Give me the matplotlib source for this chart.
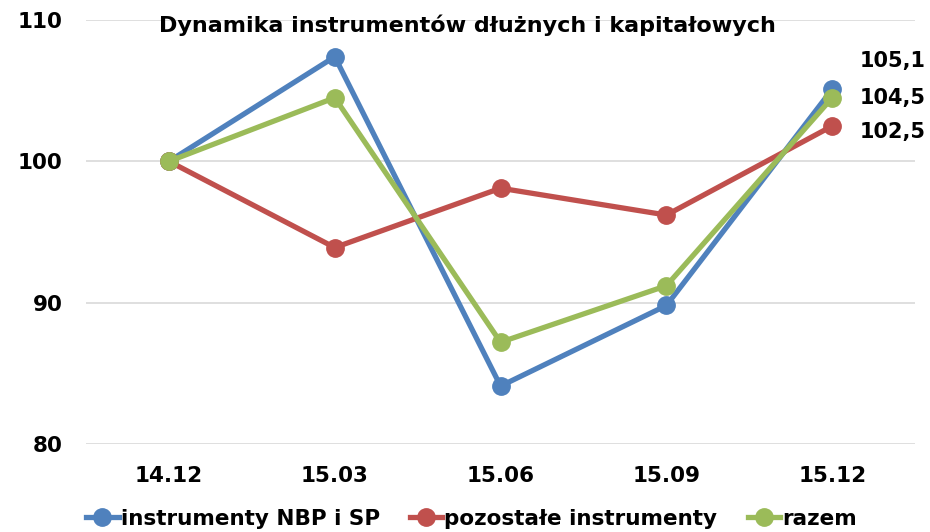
import matplotlib.pyplot as plt
from matplotlib import font_manager

# --- data ---
quarters = ['14.12', '15.03', '15.06', '15.09', '15.12']
nbp_sp = [100.0, 107.4, 84.1, 89.8, 105.1]
pozostale = [100.0, 93.9, 98.1, 96.2, 102.5]
razem = [100.0, 104.5, 87.2, 91.2, 104.5]

end_labels = ['105,1', '104,5', '102,5']

# narrow bold font for title/legend, if available
names = {f.name for f in font_manager.fontManager.ttflist}
narrow = 'Liberation Sans Narrow' if 'Liberation Sans Narrow' in names else 'DejaVu Sans'

blue = '#4F81BD'
red = '#C0504D'
green = '#9BBB59'

fig = plt.figure(figsize=(9.3, 5.32), dpi=100)
ax = fig.add_axes([0.0925, 0.1654, 0.8915, 0.797])

x = range(len(quarters))
ax.plot(x, nbp_sp, color=blue, lw=3.8, marker='o', ms=12.5, label='instrumenty NBP i SP')
ax.plot(x, pozostale, color=red, lw=3.8, marker='o', ms=12.5, label='pozostałe instrumenty')
ax.plot(x, razem, color=green, lw=3.8, marker='o', ms=12.5, label='razem')

ax.set_ylim(80, 110)
ax.set_yticks([80, 90, 100, 110])
ax.set_xlim(-0.5, len(quarters) - 0.5)
ax.set_xticks(list(x))
ax.set_xticklabels(quarters)
ax.grid(axis='y', color='#d9d9d9', lw=1.2)
ax.set_axisbelow(True)
for s in ax.spines.values():
    s.set_visible(False)
ax.tick_params(axis='both', length=0, labelsize=15.5)
ax.tick_params(axis='y', pad=17)
ax.tick_params(axis='x', pad=16)
for lab in ax.get_xticklabels() + ax.get_yticklabels():
    lab.set_fontweight('bold')

# end-point labels
last = len(quarters) - 1
offsets = [(20, 20), (20, 0), (20, -4)]
for series, txt, off in zip([nbp_sp, razem, pozostale], end_labels, offsets):
    ax.annotate(txt, (last, series[-1]), xytext=off, textcoords='offset points',
                ha='left', va='center', fontsize=15, fontweight='bold',
                annotation_clip=False)

fig.text(0.503, 0.953, 'Dynamika instrumentów dłużnych i kapitałowych',
         ha='center', va='center', fontsize=16, fontweight='bold', family=narrow)

fig.legend(loc='center', bbox_to_anchor=(0.507, 0.025), ncol=3, frameon=False,
           prop={'family': narrow, 'weight': 'bold', 'size': 15.5},
           handlelength=1.5, handletextpad=0.1, columnspacing=1.4)

fig.savefig('out.png', dpi=100)
